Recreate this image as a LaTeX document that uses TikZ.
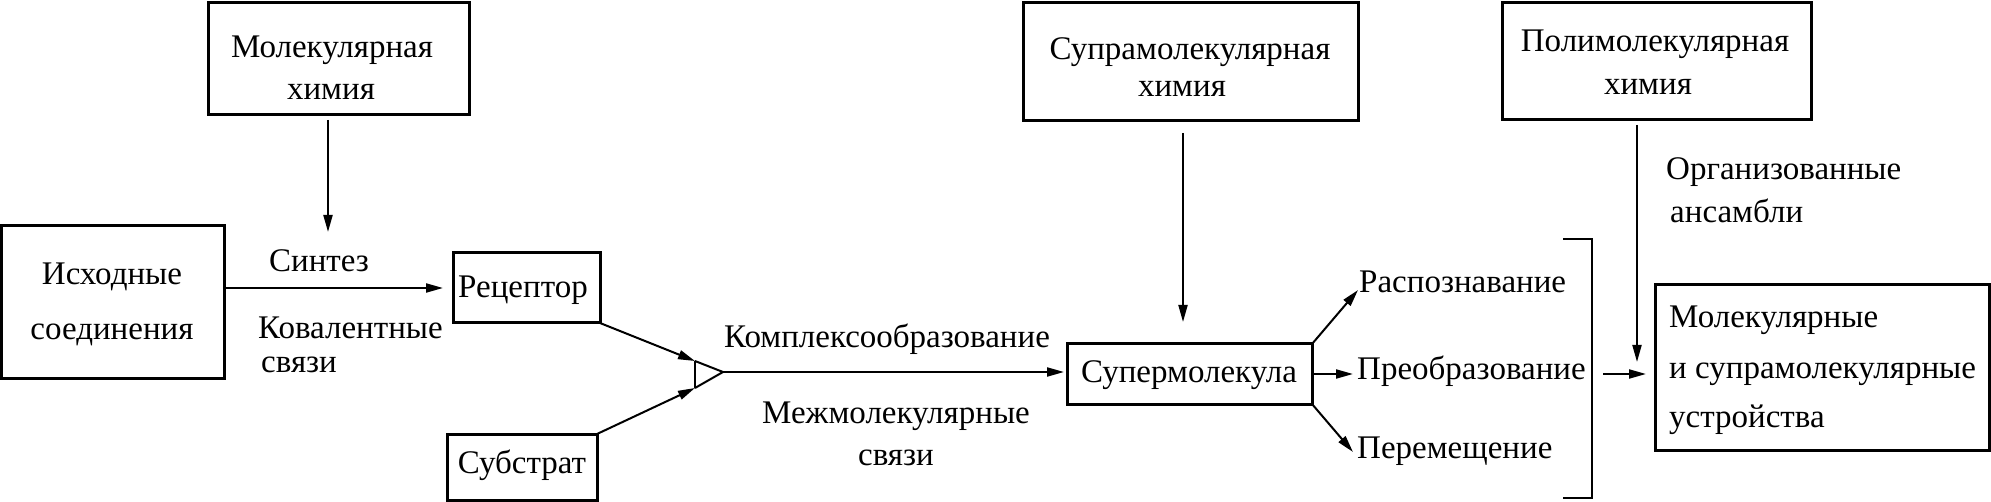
\documentclass[tikz,border=0pt]{standalone}
\usepackage{fontspec}
\setmainfont{Liberation Serif}
\usetikzlibrary{arrows.meta}
\tikzset{
  box/.style={draw, line width=3pt, inner sep=0pt, outer sep=0pt},
  txt/.style={inner sep=0pt, anchor=base, font=\fontsize{33}{40}\selectfont},
  ltxt/.style={txt, anchor=base west},
  arr/.style={line width=2pt, -{Triangle[length=17pt,width=9pt]}},
  ln/.style={line width=2pt}
}
\begin{document}
\begin{tikzpicture}[x=1pt,y=-1pt]
\useasboundingbox (0,0) rectangle (1991,502);
\fill[white] (0,0) rectangle (1991,502);

% boxes
\node[box, minimum width=261pt, minimum height=112pt] (mol) at (338.5,59) {};
\node[txt] (molt1) at (332,58) {Молекулярная};
\node[txt] (molt2) at (331,100) {химия};

\node[box, minimum width=222.5pt, minimum height=152pt] (ish) at (112.75,302) {};
\node[txt] (isht1) at (112,285) {Исходные};
\node[txt] (isht2) at (112,340) {соединения};

\node[box, minimum width=147pt, minimum height=70pt] (rec) at (526.5,288) {};
\node[txt] (rect) at (523,298) {Рецептор};

\node[box, minimum width=150pt, minimum height=66pt] (sub) at (522,467) {};
\node[txt] (subt) at (522,473) {Субстрат};

\node[box, minimum width=245pt, minimum height=60pt] (sup) at (1189.5,374) {};
\node[txt] (supt) at (1189,382) {Супермолекула};

\node[box, minimum width=335pt, minimum height=118pt] (supra) at (1190.5,62) {};
\node[txt] (suprat1) at (1190,60) {Супрамолекулярная};
\node[txt] (suprat2) at (1182,97) {химия};

\node[box, minimum width=309pt, minimum height=117pt] (poly) at (1656.5,61.5) {};
\node[txt] (polyt1) at (1655,52) {Полимолекулярная};
\node[txt] (polyt2) at (1648,95) {химия};

\node[box, minimum width=334pt, minimum height=165pt] (dev) at (1822,367.5) {};
\node[ltxt] (devt1) at (1669,328) {Молекулярные};
\node[ltxt] (devt2) at (1669,378) {и супрамолекулярные};
\node[ltxt] (devt3) at (1669,427) {устройства};

% labels
\node[txt] (synt) at (319,272) {Синтез};
\node[ltxt] (kov1) at (258,338) {Ковалентные};
\node[ltxt] (kov2) at (261,372) {связи};
\node[txt] (kompl) at (887,348) {Комплексообразование};
\node[txt] (mezh1) at (896,423) {Межмолекулярные};
\node[txt] (mezh2) at (896,465) {связи};
\node[ltxt] (org1) at (1666,180) {Организованные};
\node[ltxt] (org2) at (1670,223) {ансамбли};
\node[ltxt] (rasp) at (1359,293) {Распознавание};
\node[ltxt] (preo) at (1357,380) {Преобразование};
\node[ltxt] (perem) at (1357,458) {Перемещение};

% connectors
\coordinate (a1e) at (328,232);
\draw[arr, shorten <=5pt] (mol.south -| a1e) -- (a1e);
\draw[arr, shorten >=10pt] (ish.east |- rec.west) -- (rec.west);

\coordinate (m) at (723,372);
\coordinate (b1) at (695,361);
\coordinate (b2) at (695,388);
\draw[arr] (rec.south east) -- (b1);
\draw[arr] (sub.north east) -- (b2);
\draw[ln] (b1) -- (m) -- (b2);
\draw[ln] (b1) -- (b2);
\draw[arr, shorten >=3pt] (m) -- (m -| sup.west);

\coordinate (s1) at (1183,322);
\draw[arr, shorten <=12pt] (supra.south -| s1) -- (s1);

\coordinate (r1) at (1358,290);
\coordinate (r2) at (1353,374);
\coordinate (r3) at (1353,452);
\draw[arr] (sup.north east) -- (r1);
\draw[arr] (sup.east) -- (r2);
\draw[arr] (sup.south east) -- (r3);

\coordinate (k1) at (1563,239);
\coordinate (k2) at (1592,239);
\coordinate (k3) at (1592,498);
\coordinate (k4) at (1563,498);
\draw[ln] (k1) -- (k2) -- (k3) -- (k4);

\coordinate (q) at (1603,374);
\draw[arr, shorten >=9pt] (q) -- (q -| dev.west);

\coordinate (p1) at (1637,362);
\draw[arr, shorten <=5pt] (poly.south -| p1) -- (p1);
\end{tikzpicture}
\end{document}
